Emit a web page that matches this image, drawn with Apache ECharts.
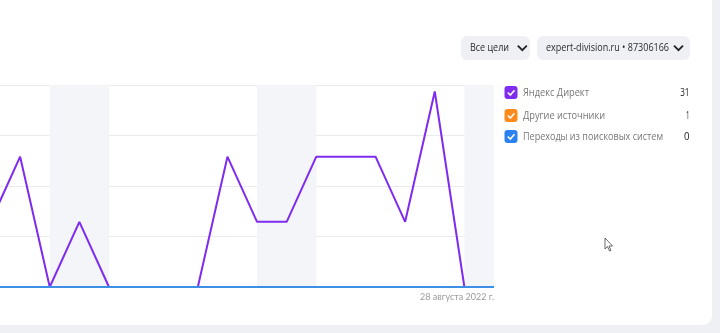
<!DOCTYPE html>
<html><head><meta charset="utf-8">
<script src="https://cdn.jsdelivr.net/npm/echarts@6/dist/echarts.min.js"></script>
<style>html,body{margin:0;padding:0;background:#eef0f4;}#c{width:720px;height:333px;}</style>
</head><body><div id="c"></div>
<script>
const dates = ['11.08','12.08','13.08','14.08','15.08','16.08','17.08','18.08','19.08','20.08','21.08','22.08','23.08','24.08','25.08','26.08','27.08','28.08'];
const tickLabels = ['','','','','','','','','','','','','','','','','','28 августа 2022 г.'];
const directValues = [1,2,0,1,0,0,0,0,2,1,1,2,2,2,1,3,0,0];
const otherValues  = [0,0,0,0,0,0,0,0,0,0,0,0,0,0,0,0,0,0];
const searchValues = [0,0,0,0,0,0,0,0,0,0,0,0,0,0,0,0,0,0];
const weekends = [['13.08','15.08'],['20.08','22.08'],['27.08','28.08']];
const legendNames = ['Яндекс Директ','Другие источники','Переходы из поисковых систем'];
const legendTotals = ['31','1','0'];
const filterLabels = ['Все цели','expert-division.ru • 87306166'];

const colors = ['#7f2bf0','#ff8a1c','#2a82f0'];
const font = '"Open Sans", "Noto Sans", sans-serif';
const chart = echarts.init(document.getElementById('c'), null, {renderer:'canvas'});

const mctx = document.createElement('canvas').getContext('2d');
function fitText(text, left, cy, width, size, color, align){
  const f = size+'px '+font;
  mctx.font = f;
  const w = mctx.measureText(text).width;
  const s = width / w;
  return {type:'text', x:left, y:cy, scaleX:s, style:{text:text, x:0, y:0, align:align||'left', verticalAlign:'middle', font:f, fill:color}};
}

const graphics = [];
graphics.push({type:'rect', z:-10, shape:{x:-20,y:-20,width:732,height:345,r:[0,0,9,0]}, style:{fill:'#ffffff'}});
const btns = [[461,36,69,470,39,522.3],[537,36,153,546,123,678.5]];
btns.forEach((b,i)=>{
  graphics.push({type:'rect', shape:{x:b[0],y:b[1],width:b[2],height:24,r:6}, style:{fill:'#eef0f4'}});
  graphics.push(fitText(filterLabels[i], b[3], b[1]+12, b[4], 11.5, '#2b2b2b'));
  const cx = b[5], cy = b[1]+12;
  graphics.push({type:'polyline', shape:{points:[[cx-4.5,cy-2.3],[cx,cy+2.2],[cx+4.5,cy-2.3]]}, style:{stroke:'#222',lineWidth:1.8,fill:null}});
});
const ly = [86,109,130];
const lw = [66,82,140];
const tw = [9.3,3.5,5.5];
legendNames.forEach((n,i)=>{
  graphics.push({type:'rect', shape:{x:504.5,y:ly[i],width:13,height:13,r:3}, style:{fill:colors[i]}});
  graphics.push({type:'polyline', shape:{points:[[507.8,ly[i]+6.5],[510.3,ly[i]+9],[514.5,ly[i]+4.3]]}, style:{stroke:'#fff',lineWidth:1.6,fill:null}});
  graphics.push(fitText(n, 523, ly[i]+6.5, lw[i], 11, '#777'));
  graphics.push(fitText(legendTotals[i], 689.5, ly[i]+6.5, tw[i], 11, '#222', 'right'));
});
graphics.push({type:'polygon', shape:{points:[[605,238],[605,249],[607.5,246.5],[609.5,251],[611,250.3],[609,246],[612.5,246]]}, style:{fill:'#fff',stroke:'#444',lineWidth:0.8}});

const idx = dates.map((d,i)=>i);
const toPairs = arr => arr.map((v,i)=>[idx[i], v]);

chart.setOption({
  animation:false,
  backgroundColor:'transparent',
  grid:{left:0, right:226, top:85, bottom:46, containLabel:false},
  xAxis:{type:'value', min:0.32, max:dates.length-1,
    axisLine:{show:false}, axisTick:{show:false},
    axisLabel:{customValues:[dates.length-1], formatter:v=>tickLabels[Math.round(v)]||'', align:'right', margin:6, fontSize:9, color:'#9a9a9a', fontFamily:'Lato, sans-serif'},
    splitLine:{show:false}},
  yAxis:{type:'value', min:0, max:3.1, interval:0.775,
    axisLine:{show:false}, axisTick:{show:false}, axisLabel:{show:false},
    splitLine:{lineStyle:{color:'#ebebeb', width:1}}},
  series:[
    {name:legendNames[0], type:'line', data:toPairs(directValues), symbol:'none', clip:true, lineStyle:{color:colors[0], width:2}, z:3,
      markArea:{silent:true, itemStyle:{color:'#f4f5f9'}, data:weekends.map(w=>[{xAxis:dates.indexOf(w[0])},{xAxis:dates.indexOf(w[1])}])}},
    {name:legendNames[1], type:'line', data:toPairs(otherValues), symbol:'none', clip:true, lineStyle:{color:colors[1], width:2}, z:4},
    {name:legendNames[2], type:'line', data:toPairs(searchValues), symbol:'none', clip:true, lineStyle:{color:'#3d8fe6', width:2}, z:5}
  ],
  graphic:graphics
});
</script></body></html>
